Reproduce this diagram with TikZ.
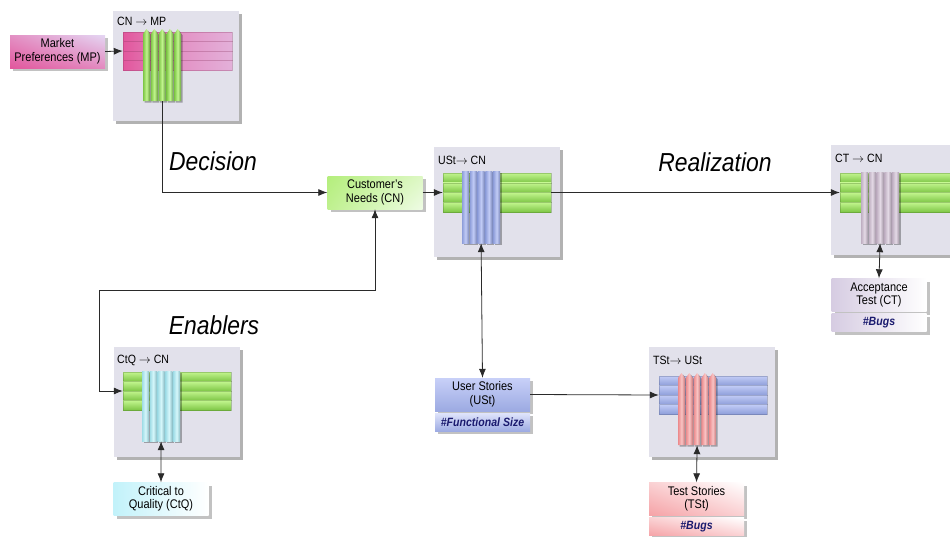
\documentclass[tikz,border=0pt]{standalone}
\usepackage{fontspec}
\setmainfont[FakeStretch=0.88]{Liberation Sans}
\usetikzlibrary{arrows.meta,positioning,shadows,shadings}
\definecolor{matGray}{HTML}{E2E1EB}
\definecolor{lineGray}{HTML}{2A2A2A}
\definecolor{greenHi}{HTML}{C2F58E}
\definecolor{greenLo}{HTML}{7EC646}
\definecolor{pinkDeep}{HTML}{E2579D}
\definecolor{pinkLav}{HTML}{E4D6F3}
\definecolor{blueHi}{HTML}{C2CCF6}
\definecolor{blueLo}{HTML}{8E9EDA}
\definecolor{cyanHi}{HTML}{D6F7FB}
\definecolor{cyanLo}{HTML}{9FDCE6}
\definecolor{mauveHi}{HTML}{E4DAE6}
\definecolor{mauveLo}{HTML}{BFAFC2}
\definecolor{salmonHi}{HTML}{F9C4C4}
\definecolor{salmonLo}{HTML}{EC8A8C}
\definecolor{cnGreen}{HTML}{B4EE7C}
\definecolor{cnLight}{HTML}{EEFCE4}
\definecolor{ustHi}{HTML}{C8D0F8}
\definecolor{ustLo}{HTML}{9CAAE2}
\definecolor{ctqCyan}{HTML}{C2F2FA}
\definecolor{ctMauve}{HTML}{D6CCE2}
\definecolor{tstPink}{HTML}{F5A2A6}
\definecolor{tagNavy}{HTML}{1A1A6E}

\begin{document}
\begin{tikzpicture}
[x=1pt,y=-1pt,
matrixBox/.style={fill=matGray,minimum width=126pt,minimum height=110pt,inner sep=0pt,drop shadow={shadow xshift=3pt,shadow yshift=-3pt,opacity=0.55,fill=black!55}},
barGroup/.style={inner sep=0pt},
matLabel/.style={anchor=west,inner sep=0pt,font=\fontsize{12}{13}\selectfont},
srcBox/.style={minimum width=95pt,minimum height=33pt,inner sep=1pt,align=center,font=\fontsize{12.5}{13.5}\selectfont,drop shadow={shadow xshift=3pt,shadow yshift=-3pt,opacity=0.4,fill=black!60}},
tagBox/.style={minimum width=95pt,minimum height=18pt,inner sep=0pt,text=tagNavy,font=\bfseries\itshape\fontsize{12}{13}\selectfont,drop shadow={shadow xshift=3pt,shadow yshift=-3pt,opacity=0.4,fill=black!60}},
phaseLabel/.style={inner sep=0pt,font=\itshape\fontsize{26}{28}\selectfont},
rowGreen/.style={top color=greenHi,bottom color=greenLo,draw=greenLo!60!black,draw opacity=0.35,line width=0.4pt},
rowPink/.style={left color=pinkDeep,right color=pinkDeep!30!pinkLav,middle color=pinkDeep!55!pinkLav,draw=pinkDeep!60!black,draw opacity=0.3,line width=0.4pt},
rowBlue/.style={top color=blueHi,bottom color=blueLo,draw=blueLo!60!black,draw opacity=0.35,line width=0.4pt},
colShadow/.style={drop shadow={shadow xshift=1.5pt,shadow yshift=-1.5pt,opacity=0.3,fill=black}},
colGreen/.style={colShadow,left color=greenLo,right color=greenLo!80!black,middle color=greenHi},
colBlue/.style={colShadow,left color=blueLo,right color=blueLo!85!black,middle color=blueHi},
colCyan/.style={colShadow,left color=cyanLo,right color=cyanLo!85!black,middle color=cyanHi},
colMauve/.style={colShadow,left color=mauveLo,right color=mauveLo!85!black,middle color=mauveHi},
colSalmon/.style={colShadow,left color=salmonLo,right color=salmonLo!85!black,middle color=salmonHi},
conn/.style={draw=lineGray,line width=0.8pt},
tip/.style={-{Latex[length=9pt,width=7pt]}},
bothTips/.style={{Latex[length=9pt,width=7pt]}-{Latex[length=9pt,width=7pt]}},
]
\useasboundingbox (0,0) rectangle (950,536);
\node[matrixBox] (mp) at (176,66) {};
\node[matrixBox] (ust) at (497,202) {};
\node[matrixBox] (ct) at (894,200) {};
\node[matrixBox] (ctq) at (176.5,402) {};
\node[matrixBox] (tst) at (712,402) {};
\node[matLabel] (mp-label) at (117,21) {CN $\to$ MP};
\node[matLabel] (ust-label) at (438,160) {USt$\to$ CN};
\node[matLabel] (ct-label) at (835,158) {CT $\to$ CN};
\node[matLabel] (ctq-label) at (117,360) {CtQ $\to$ CN};
\node[matLabel] (tst-label) at (653,360) {TSt$\to$ USt};
\node[barGroup,minimum width=109pt,minimum height=38pt] (mp-rows) at (177.5,51) {};
\node[barGroup,minimum width=108pt,minimum height=39pt] (ust-rows) at (497,192.5) {};
\node[barGroup,minimum width=109pt,minimum height=39pt] (ct-rows) at (894.5,192.5) {};
\node[barGroup,minimum width=108pt,minimum height=38pt] (ctq-rows) at (177,391) {};
\node[barGroup,minimum width=108pt,minimum height=38pt] (tst-rows) at (713,395) {};
\node[barGroup,minimum width=38pt,minimum height=71pt] (mp-cols) at (162,65.5) {};
\node[barGroup,minimum width=38pt,minimum height=72pt] (ust-cols) at (481.1,207) {};
\node[barGroup,minimum width=38pt,minimum height=71pt] (ct-cols) at (880.1,207.5) {};
\node[barGroup,minimum width=38pt,minimum height=70pt] (ctq-cols) at (161.1,406) {};
\node[barGroup,minimum width=38pt,minimum height=72pt] (tst-cols) at (697.1,409) {};
% CN -> MP
\shade[rowPink] (123,32) rectangle (232,41.5);
\shade[rowPink] (123,41.5) rectangle (232,51);
\shade[rowPink] (123,51) rectangle (232,60.5);
\shade[rowPink] (123,60.5) rectangle (232,70);
\shade[colGreen] (143,101) -- (143,34) -- (146.5,29) -- (150,34) -- (150,101) -- cycle;
\shade[colGreen] (150.8,101) -- (150.8,34) -- (154.3,29) -- (157.8,34) -- (157.8,101) -- cycle;
\shade[colGreen] (158.6,101) -- (158.6,34) -- (162.1,29) -- (165.6,34) -- (165.6,101) -- cycle;
\shade[colGreen] (166.4,101) -- (166.4,34) -- (169.9,29) -- (173.4,34) -- (173.4,101) -- cycle;
\shade[colGreen] (174.2,101) -- (174.2,34) -- (177.7,29) -- (181.2,34) -- (181.2,101) -- cycle;
% USt -> CN
\shade[rowGreen] (443,173) rectangle (551,182.8);
\shade[rowGreen] (443,182.8) rectangle (551,192.5);
\shade[rowGreen] (443,192.5) rectangle (551,202.3);
\shade[rowGreen] (443,202.3) rectangle (551,212);
\shade[colBlue] (462,171) rectangle (469,243);
\shade[colBlue] (469.8,171) rectangle (476.8,243);
\shade[colBlue] (477.6,171) rectangle (484.6,243);
\shade[colBlue] (485.4,171) rectangle (492.4,243);
\shade[colBlue] (493.2,171) rectangle (500.2,243);
% CT -> CN
\shade[rowGreen] (840,173) rectangle (950,182.8);
\shade[rowGreen] (840,182.8) rectangle (950,192.5);
\shade[rowGreen] (840,192.5) rectangle (950,202.3);
\shade[rowGreen] (840,202.3) rectangle (950,212);
\shade[colMauve] (861,172) rectangle (868,243);
\shade[colMauve] (868.8,172) rectangle (875.8,243);
\shade[colMauve] (876.6,172) rectangle (883.6,243);
\shade[colMauve] (884.4,172) rectangle (891.4,243);
\shade[colMauve] (892.2,172) rectangle (899.2,243);
% CtQ -> CN
\shade[rowGreen] (123,372) rectangle (231,381.5);
\shade[rowGreen] (123,381.5) rectangle (231,391);
\shade[rowGreen] (123,391) rectangle (231,400.5);
\shade[rowGreen] (123,400.5) rectangle (231,410);
\shade[colCyan] (142,371) rectangle (149,441);
\shade[colCyan] (149.8,371) rectangle (156.8,441);
\shade[colCyan] (157.6,371) rectangle (164.6,441);
\shade[colCyan] (165.4,371) rectangle (172.4,441);
\shade[colCyan] (173.2,371) rectangle (180.2,441);
% TSt -> USt
\shade[rowBlue] (659,376) rectangle (767,385.5);
\shade[rowBlue] (659,385.5) rectangle (767,395);
\shade[rowBlue] (659,395) rectangle (767,404.5);
\shade[rowBlue] (659,404.5) rectangle (767,414);
\shade[colSalmon] (678,445) -- (678,378) -- (681.5,373) -- (685,378) -- (685,445) -- cycle;
\shade[colSalmon] (685.8,445) -- (685.8,378) -- (689.3,373) -- (692.8,378) -- (692.8,445) -- cycle;
\shade[colSalmon] (693.6,445) -- (693.6,378) -- (697.1,373) -- (700.6,378) -- (700.6,445) -- cycle;
\shade[colSalmon] (701.4,445) -- (701.4,378) -- (704.9,373) -- (708.4,378) -- (708.4,445) -- cycle;
\shade[colSalmon] (709.2,445) -- (709.2,378) -- (712.7,373) -- (716.2,378) -- (716.2,445) -- cycle;
\node[srcBox,lower left=pinkDeep,upper left=pinkDeep!55!pinkLav,upper right=pinkLav,lower right=pinkDeep!60!pinkLav] (MP) at (57.5,51.5) {Market\\Preferences (MP)};
\node[srcBox,upper left=cnGreen,lower left=cnGreen!85!white,upper right=cnGreen!45!white,lower right=cnLight] (CN) at (375,192.5) {Customer's\\Needs (CN)};
\node[srcBox,top color=ustHi,bottom color=ustLo] (USt) at (482.5,394.5) {User Stories\\(USt)};
\node[tagBox,top color=ustHi!60!white,bottom color=ustLo,below=2pt of USt] (USt-tag) {\#Functional Size};
\node[srcBox,left color=ctMauve,right color=white] (CT) at (879,295) {Acceptance\\Test (CT)};
\node[tagBox,left color=ctMauve,right color=white,below=2pt of CT] (CT-tag) {\#Bugs};
\node[srcBox,left color=ctqCyan,right color=white] (CtQ) at (161,499) {Critical to\\Quality (CtQ)};
\node[srcBox,lower left=tstPink,upper left=tstPink!50!white,upper right=white,lower right=tstPink!50!white] (TSt) at (696.5,499) {Test Stories\\(TSt)};
\node[tagBox,lower left=tstPink,upper left=tstPink!50!white,upper right=white,lower right=tstPink!50!white,below=2pt of TSt] (TSt-tag) {\#Bugs};
\node[phaseLabel] (decision) at (213,161) {Decision};
\node[phaseLabel] (realization) at (715,162) {Realization};
\node[phaseLabel] (enablers) at (214,325) {Enablers};
\coordinate (ctq-bend) at (99,290);
\draw[conn,tip] (MP.east) -- (mp-rows.west);
\draw[conn,tip] (mp-cols.south) |- (CN.west);
\draw[conn,tip] (CN.east) -- (ust-rows.west);
\draw[conn,tip] (ust-rows.east) -- (ct-rows.west);
\draw[conn,bothTips] (CN.south) |- (ctq-bend) |- (ctq-rows.west);
\draw[conn,bothTips] (ct-cols.south) -- (CT.north);
\draw[conn,bothTips] (ctq-cols.south) -- (CtQ.north);
\draw[conn,bothTips] (ust-cols.south) -- (USt.north);
\draw[conn,tip] (USt.east) -- (tst-rows.west);
\draw[conn,bothTips] (tst-cols.south) -- (TSt.north);
\end{tikzpicture}
\end{document}
